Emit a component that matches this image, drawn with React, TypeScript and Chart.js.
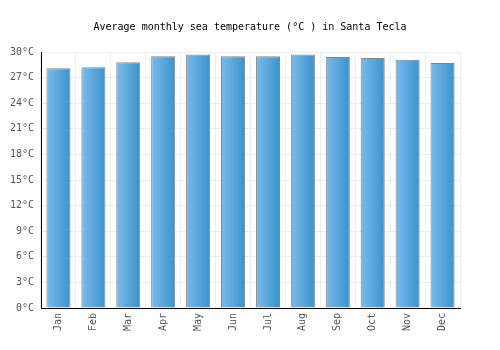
import React, { useEffect, useRef } from "react";
import { Chart, registerables } from "chart.js";

Chart.register(...registerables);

const months = ["Jan", "Feb", "Mar", "Apr", "May", "Jun", "Jul", "Aug", "Sep", "Oct", "Nov", "Dec"];
const seaTemp = [28.1, 28.2, 28.8, 29.5, 29.7, 29.5, 29.5, 29.7, 29.4, 29.3, 29.1, 28.7];
const yTicks = [0, 3, 6, 9, 12, 15, 18, 21, 24, 27, 30];
const titleText = "Average monthly sea temperature (°C ) in Santa Tecla";

const FONT = "'DejaVu Sans Mono', monospace";
const BAR_PCT = 0.69;

const titlePlugin = {
  id: "centerTitle",
  afterDraw(chart: any) {
    const ctx = chart.ctx;
    ctx.save();
    ctx.font = "10px " + FONT;
    ctx.fillStyle = "#000";
    ctx.textAlign = "center";
    ctx.textBaseline = "middle";
    ctx.fillText(titleText, chart.width / 2, 27);
    ctx.restore();
  },
};

export default function App() {
  const ref = useRef<HTMLCanvasElement>(null);
  useEffect(() => {
    document.body.style.margin = "0";
    const canvas = ref.current!;
    const chart = new Chart(canvas, {
      type: "bar",
      data: {
        labels: months,
        datasets: [
          {
            data: seaTemp,
            borderColor: "#858585",
            borderWidth: 1,
            barPercentage: BAR_PCT,
            categoryPercentage: 1,
            backgroundColor: (c: any) => {
              const ch = c.chart;
              const xs = ch.scales && ch.scales.x;
              if (!xs || c.dataIndex === undefined || !ch.chartArea) return "#5aa6dc";
              const cx = xs.getPixelForValue(c.dataIndex);
              const w = (ch.chartArea.width / months.length) * BAR_PCT;
              const g = ch.ctx.createLinearGradient(cx - w / 2, 0, cx + w / 2, 0);
              g.addColorStop(0, "#7dbaea");
              g.addColorStop(1, "#3993cd");
              return g;
            },
          },
        ],
      },
      options: {
        animation: false,
        responsive: false,
        maintainAspectRatio: false,
        layout: { padding: { left: 0, right: 40, top: 52, bottom: 0 } },
        plugins: {
          legend: { display: false },
          tooltip: { enabled: false },
          title: { display: false },
        },
        scales: {
          x: {
            grid: { color: "#eeeeee", drawTicks: false, offset: true },
            border: { color: "#000", width: 1 },
            ticks: {
              color: "#555",
              font: { family: FONT, size: 10 },
              maxRotation: 90,
              minRotation: 90,
              padding: 5,
            },
            afterFit: (s: any) => {
              s.height = 42;
            },
          },
          y: {
            min: 0,
            max: 30,
            grid: { color: "#eeeeee", drawTicks: false },
            border: { color: "#000", width: 1 },
            afterBuildTicks: (s: any) => {
              s.ticks = yTicks.map((v) => ({ value: v }));
            },
            ticks: {
              color: "#555",
              font: { family: FONT, size: 10 },
              padding: 7,
              callback: (v: any) => v + "°C",
            },
            afterFit: (s: any) => {
              s.width = 41;
            },
          },
        },
      },
      plugins: [titlePlugin],
    });
    return () => chart.destroy();
  }, []);
  return <canvas ref={ref} width={500} height={350} style={{ display: "block" }} />;
}
